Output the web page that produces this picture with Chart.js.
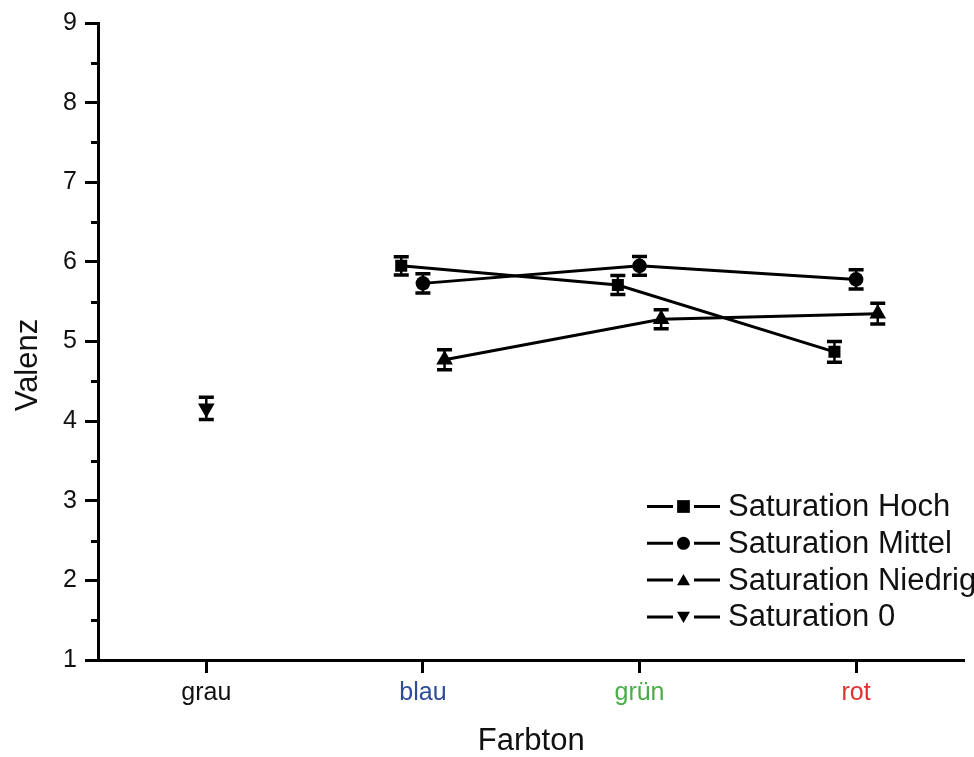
<!DOCTYPE html>
<html><head><meta charset="utf-8">
<script src="https://cdn.jsdelivr.net/npm/chart.js@4.4.1/dist/chart.umd.min.js"></script>
<style>html,body{margin:0;padding:0;background:#fff;} #wrap{width:974px;height:757px;position:relative;}</style>
</head><body><div id="wrap"><canvas id="c"></canvas></div>
<script>
// ---- data ----
const categories = ['grau', 'blau', 'grün', 'rot'];
const categoryColors = ['#111111', '#2f4c9c', '#4aad4a', '#e0302f'];
const seriesLabels = ['Saturation Hoch', 'Saturation Mittel', 'Saturation Niedrig', 'Saturation 0'];
const satHoch = [null, 5.95, 5.71, 4.87];
const satHochErr = [null, 0.115, 0.12, 0.13];
const satMittel = [null, 5.73, 5.95, 5.78];
const satMittelErr = [null, 0.12, 0.117, 0.12];
const satNiedrig = [null, 4.77, 5.28, 5.35];
const satNiedrigErr = [null, 0.125, 0.12, 0.13];
const sat0 = [4.16, null, null, null];
const sat0Err = [0.14, null, null, null];
const yMin = 1, yMax = 9, yStep = 1;
const xTitle = 'Farbton';
const yTitle = 'Valenz';

// ---- styles ----
const FONT = '"Liberation Sans", Arial, Helvetica, sans-serif';
const TXT = '#111111';
const seriesStyle = [
  {offset: -0.1, pointStyle: 'rect', radius: 8.5, rotation: 0, legendRadius: 9},
  {offset: 0, pointStyle: 'circle', radius: 7.3, rotation: 0, legendRadius: 6.5},
  {offset: 0.1, pointStyle: 'triangle', radius: 9.6, rotation: 0, legendRadius: 7.5},
  {offset: 0, pointStyle: 'triangle', radius: 9.6, rotation: 180, legendRadius: 7.5}
];
const seriesValues = [satHoch, satMittel, satNiedrig, sat0];
const seriesErrors = [satHochErr, satMittelErr, satNiedrigErr, sat0Err];

function pts(values, offset) {
  return values.map((v, i) => v == null ? null : {x: i + 1 + offset, y: v}).filter(p => p);
}
function errs(values, e) {
  return values.map((v, i) => v == null ? null : e[i]).filter(p => p != null);
}

const datasets = seriesLabels.map((label, k) => ({
  label,
  data: pts(seriesValues[k], seriesStyle[k].offset),
  errors: errs(seriesValues[k], seriesErrors[k]),
  showLine: true,
  borderColor: '#000',
  backgroundColor: '#000',
  borderWidth: 3,
  tension: 0,
  pointStyle: seriesStyle[k].pointStyle,
  pointRadius: seriesStyle[k].radius,
  pointHoverRadius: seriesStyle[k].radius,
  pointRotation: seriesStyle[k].rotation,
  pointBorderWidth: 0,
  pointBackgroundColor: '#000',
  pointBorderColor: '#000',
  legendRadius: seriesStyle[k].legendRadius
}));

const errorBars = {
  id: 'errorBars',
  afterDatasetsDraw(chart) {
    const ctx = chart.ctx, y = chart.scales.y;
    ctx.save();
    ctx.strokeStyle = '#000';
    chart.data.datasets.forEach((ds, di) => {
      const meta = chart.getDatasetMeta(di);
      meta.data.forEach((el, i) => {
        const v = ds.data[i].y, e = ds.errors[i];
        const yt = y.getPixelForValue(v + e), yb = y.getPixelForValue(v - e);
        ctx.lineWidth = 2.5;
        ctx.beginPath(); ctx.moveTo(el.x, yt); ctx.lineTo(el.x, yb); ctx.stroke();
        ctx.lineWidth = 3.5;
        ctx.beginPath();
        ctx.moveTo(el.x - 7.5, yt); ctx.lineTo(el.x + 7.5, yt);
        ctx.moveTo(el.x - 7.5, yb); ctx.lineTo(el.x + 7.5, yb);
        ctx.stroke();
      });
    });
    ctx.restore();
  }
};

const extras = {
  id: 'extras',
  afterDraw(chart) {
    const ctx = chart.ctx, y = chart.scales.y, area = chart.chartArea;
    ctx.save();
    // minor ticks
    ctx.strokeStyle = '#000';
    ctx.lineWidth = 3;
    for (let v = yMin + yStep / 2; v < yMax; v += yStep) {
      const py = Math.round(y.getPixelForValue(v)) + 0.5;
      ctx.beginPath(); ctx.moveTo(area.left - 7, py); ctx.lineTo(area.left, py); ctx.stroke();
    }
    // y title
    ctx.fillStyle = TXT;
    ctx.font = '31px ' + FONT;
    ctx.textAlign = 'center';
    ctx.textBaseline = 'middle';
    ctx.translate(28, 365);
    ctx.rotate(-Math.PI / 2);
    ctx.fillText(yTitle, 0, 0);
    ctx.setTransform(1, 0, 0, 1, 0, 0);
    // legend
    const x0 = 647, row0 = 506.5, rowH = 36.8;
    chart.data.datasets.forEach((ds, k) => {
      const ry = row0 + k * rowH;
      ctx.strokeStyle = '#000';
      ctx.lineWidth = 3;
      ctx.beginPath();
      ctx.moveTo(x0, ry); ctx.lineTo(x0 + 26, ry);
      ctx.moveTo(x0 + 47, ry); ctx.lineTo(x0 + 73, ry);
      ctx.stroke();
      ctx.fillStyle = '#000';
      Chart.helpers.drawPoint(ctx, {pointStyle: ds.pointStyle, radius: ds.legendRadius, rotation: ds.pointRotation, borderWidth: 0}, x0 + 36.5, ry + (ds.pointStyle === 'triangle' ? (ds.pointRotation ? -1.5 : 1.5) : 0));
      ctx.fillStyle = TXT;
      ctx.font = '31px ' + FONT;
      ctx.textAlign = 'left';
      ctx.textBaseline = 'middle';
      ctx.fillText(ds.label, 728, ry + 1);
    });
    ctx.restore();
  }
};

new Chart(document.getElementById('c'), {
  type: 'scatter',
  data: {datasets},
  options: {
    responsive: true,
    maintainAspectRatio: false,
    animation: false,
    layout: {padding: {left: 0, right: 9, top: 19, bottom: 0}},
    plugins: {legend: {display: false}, tooltip: {enabled: false}},
    scales: {
      x: {
        type: 'linear',
        min: 0.5, max: categories.length + 0.5,
        afterBuildTicks(scale) { scale.ticks = categories.map((c, i) => ({value: i + 1})); },
        afterFit(scale) { scale.height = 97; },
        ticks: {
          callback: (v) => categories[Math.round(v) - 1] || '',
          color: (ctx) => categoryColors[ctx.index] || TXT,
          font: {family: FONT, size: 25},
          padding: 5,
          maxRotation: 0,
          autoSkip: false
        },
        grid: {drawOnChartArea: false, drawTicks: true, tickLength: 13, tickWidth: 3, tickColor: '#000'},
        border: {display: true, color: '#000', width: 3},
        title: {display: true, text: xTitle, color: TXT, font: {family: FONT, size: 31, lineHeight: 1}, padding: {top: 0, bottom: 0}}
      },
      y: {
        min: yMin, max: yMax,
        afterFit(scale) { scale.width = 98; },
        ticks: {stepSize: yStep, color: TXT, font: {family: FONT, size: 25}, padding: 8},
        grid: {drawOnChartArea: false, drawTicks: true, tickLength: 13, tickWidth: 3, tickColor: '#000'},
        border: {display: true, color: '#000', width: 3}
      }
    }
  },
  plugins: [errorBars, extras]
});
</script>
</body></html>
